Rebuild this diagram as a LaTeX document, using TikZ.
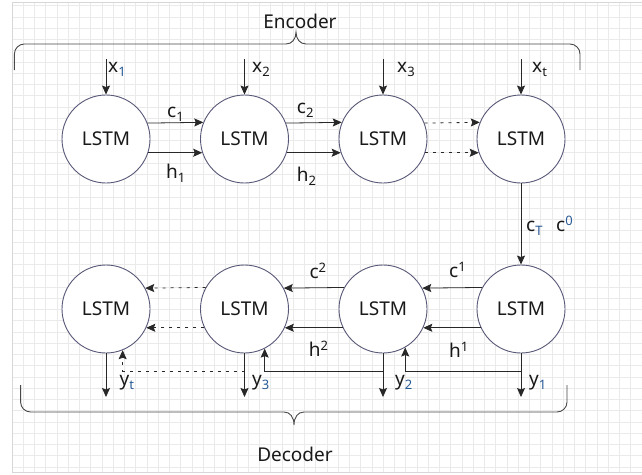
\documentclass[tikz,border=0pt]{standalone}
\usepackage{fontspec}
\setmainfont{Noto Sans}
\usetikzlibrary{arrows.meta}
\definecolor{circ}{RGB}{88,88,120}
\definecolor{ln}{RGB}{40,40,40}
\definecolor{sb}{RGB}{40,90,150}
\definecolor{gridc}{RGB}{234,234,234}
\definecolor{gridb}{RGB}{215,215,215}
\newcommand{\mysub}[1]{\raisebox{-4pt}{\fontsize{13}{13}\selectfont #1}}
\newcommand{\mysup}[1]{\raisebox{6pt}{\fontsize{13}{13}\selectfont #1}}
\begin{document}
\begin{tikzpicture}[x=1pt,y=-1pt,
  lstm/.style={circle,draw=circ,line width=0.9pt,fill=white,minimum size=88pt,inner sep=0pt,font=\fontsize{19}{22}\selectfont,text=black!90},
  arr/.style={draw=ln,line width=0.8pt,-{Stealth[length=9pt,width=8pt,inset=1.5pt]}},
  dsh/.style={arr,dash pattern=on 3pt off 5pt},
  lbl/.style={inner sep=0pt,anchor=base west,font=\fontsize{19}{22}\selectfont,text=black!90},
  ttl/.style={inner sep=0pt,anchor=base,font=\fontsize{19}{22}\selectfont,text=black!90},
  br/.style={draw=ln!85,line width=0.9pt}]
\useasboundingbox (0,0) rectangle (642,474);
\fill[white] (0,0) rectangle (642,474);
% grid
\foreach \i in {0,...,56} \draw[gridc,line width=0.6pt] ({12+11.25*\i},2) -- ({12+11.25*\i},472);
\foreach \j in {0,...,41} \draw[gridc,line width=0.6pt] (12,{467-11.25*\j}) -- (642,{467-11.25*\j});
\draw[gridb,line width=0.8pt] (12,2) -- (12,472) -- (642,472);
\draw[gridb,line width=0.8pt] (12,2) -- (642,2);

% encoder nodes
\node[lstm] (e1) at (106,139) {LSTM};
\node[lstm] (e2) at (244.5,139) {LSTM};
\node[lstm] (e3) at (383,139) {LSTM};
\node[lstm] (e4) at (521,139) {LSTM};
% decoder nodes
\node[lstm] (d1) at (106,309) {LSTM};
\node[lstm] (d2) at (244.5,309) {LSTM};
\node[lstm] (d3) at (383,309) {LSTM};
\node[lstm] (d4) at (521,309) {LSTM};

% inputs
\coordinate (i1) at (106,59);
\coordinate (i2) at (244.5,59);
\coordinate (i3) at (383,59);
\coordinate (i4) at (521,59);
\draw[arr] (i1) -- (e1);
\draw[arr] (i2) -- (e2);
\draw[arr] (i3) -- (e3);
\draw[arr] (i4) -- (e4);
\node[lbl] (lx1) at (108,72.7) {x\mysub{\color{sb}1}};
\node[lbl] (lx2) at (252,72.7) {x\mysub{2}};
\node[lbl] (lx3) at (397,72.7) {x\mysub{3}};
\node[lbl] (lxt) at (532,72.7) {x\mysub{t}};

% encoder links
\draw[arr] (e1.21.3) -- (e2.158.7);
\draw[arr] (e1.-18.5) -- (e2.198.5);
\draw[arr] (e2.21.3) -- (e3.158.7);
\draw[arr] (e2.-18.5) -- (e3.198.5);
\draw[dsh] (e3.21.3) -- (e4.158.7);
\draw[dsh] (e3.-18.5) -- (e4.198.5);
\node[lbl] (lc1) at (167,117) {c\mysub{1}};
\node[lbl] (lc2) at (296.7,113) {c\mysub{2}};
\node[lbl] (lh1) at (166,178) {h\mysub{1}};
\node[lbl] (lh2) at (296.7,181) {h\mysub{2}};

% encoder to decoder
\draw[arr] (e4) -- (d4);
\node[lbl] (lcT) at (526,231.7) {c\mysub{\color{sb}T}};
\node[lbl] (lc0) at (556,231.7) {c\mysup{\color{sb}0}};

% decoder links
\draw[arr] (d4.151.5) -- (d3.28.5);
\draw[arr] (d4.205.6) -- (d3.-25.6);
\draw[arr] (d3.151.5) -- (d2.28.5);
\draw[arr] (d3.205.6) -- (d2.-25.6);
\draw[dsh] (d2.151.5) -- (d1.28.5);
\draw[dsh] (d2.205.6) -- (d1.-25.6);
\node[lbl] (lcs2) at (309.4,278) {c\mysup{2}};
\node[lbl] (lcs1) at (449,277.3) {c\mysup{1}};
\node[lbl] (lhs2) at (308.6,356.7) {h\mysup{2}};
\node[lbl] (lhs1) at (449,357.3) {h\mysup{1}};

% outputs
\coordinate (o1) at (106,397);
\coordinate (o2) at (244.5,397);
\coordinate (o3) at (383,397);
\coordinate (o4) at (521,397);
\draw[arr] (d1) -- (o1);
\draw[arr] (d2) -- (o2);
\draw[arr] (d3) -- (o3);
\draw[arr] (d4) -- (o4);
\node[lbl] (lyt) at (119.5,385) {y\mysub{\color{sb}t}};
\node[lbl] (ly3) at (252,385) {y\mysub{\color{sb}3}};
\node[lbl] (ly2) at (395,385) {y\mysub{\color{sb}2}};
\node[lbl] (ly1) at (529,385) {y\mysub{\color{sb}1}};

% feedback
\coordinate (j4) at (521,371);
\coordinate (j3) at (383,371);
\coordinate (j2) at (244.5,371);
\draw[arr] (j4) -| (d3.-60);
\draw[arr] (j3) -| (d2.-63);
\draw[dsh] (j2) -| (d1.-68.7);

% braces
\draw[br] (14.4,70) -- (14.4,54) .. controls (14.4,48.5) and (18.9,44) .. (24.4,44) -- (286,44)
  .. controls (292,44) and (296,39) .. (296,32) .. controls (296,39) and (300,44) .. (306,44)
  -- (570,44) .. controls (575.5,44) and (580,48.5) .. (580,54) -- (580,70);
\node[ttl] (enc) at (300,28) {Encoder};
\draw[br] (20.6,385) -- (20.6,402) .. controls (20.6,407.5) and (25,412) .. (30.6,412) -- (284,412)
  .. controls (290,412) and (294,417) .. (294,425) .. controls (294,417) and (298,412) .. (304,412)
  -- (557,412) .. controls (562.5,412) and (567,407.5) .. (567,402) -- (567,385);
\node[ttl] (dec) at (295,461) {Decoder};
\end{tikzpicture}
\end{document}
